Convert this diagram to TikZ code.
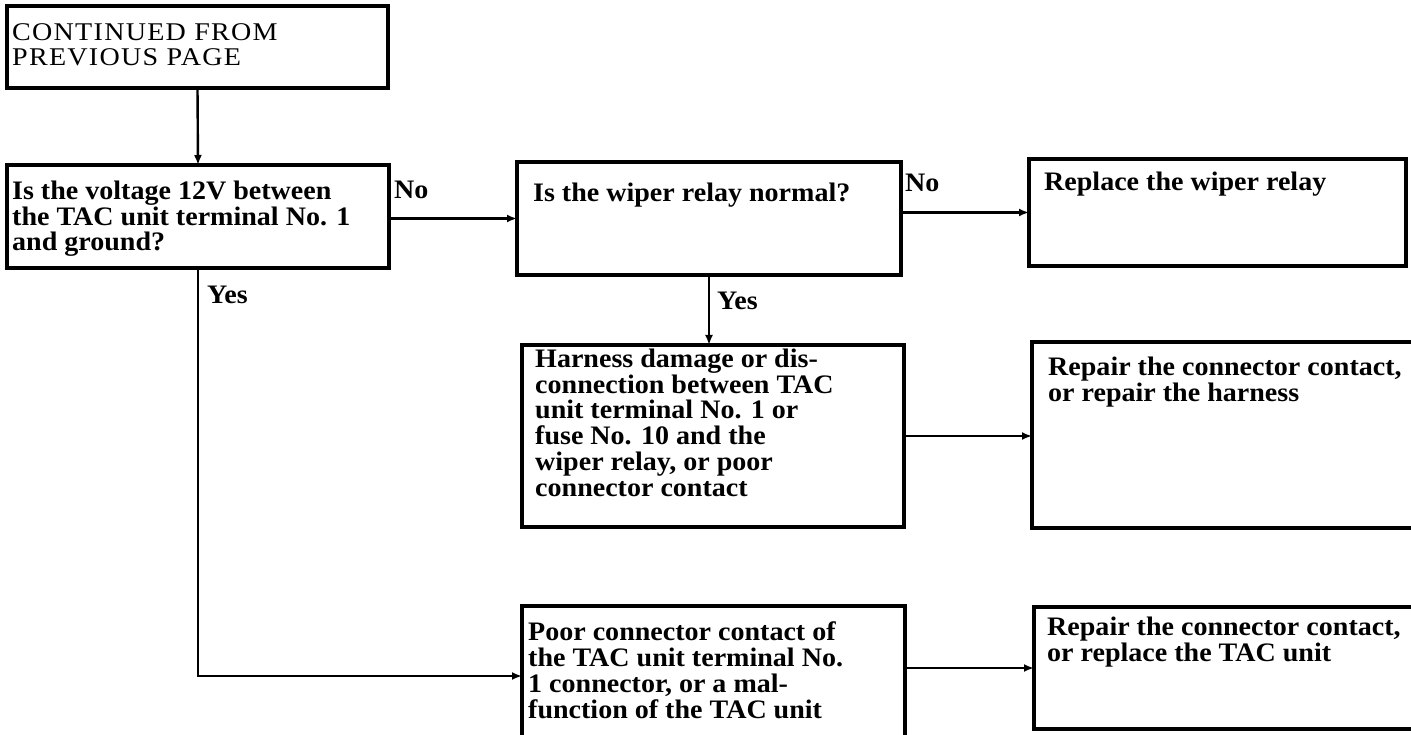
\documentclass[tikz,border=0pt]{standalone}
\usepackage{fontspec}
\setmainfont{Liberation Serif}[FakeStretch=1.05]
\newfontfamily\headfont{Liberation Serif}[FakeStretch=1.1, LetterSpace=5]
\usetikzlibrary{arrows.meta}
\begin{document}
\begin{tikzpicture}[x=1pt,y=-1pt,
  box/.style={draw, line width=3.2pt, rectangle, inner sep=0pt, outer sep=0pt, anchor=north west},
  % multi-line texts are placed by the baseline of their last line
  txt/.style={anchor=base west, inner sep=0pt, align=left,
    font=\fontsize{26.7}{25.7}\selectfont\bfseries},
  plaintxt/.style={txt, font=\headfont\fontsize{25.5}{25}\selectfont},
  flow/.style={line width=2.4pt, -{Latex[length=10pt,width=8pt]}},
  lbl/.style={anchor=base west, inner sep=0pt, font=\fontsize{26.7}{25.7}\selectfont\bfseries}]

\useasboundingbox (0,0) rectangle (1411,735);
\clip (0,0) rectangle (1411,735);

% boxes
\node[box, minimum width=381pt, minimum height=82pt]  (A) at (7,6) {};
\node[box, minimum width=382pt, minimum height=103pt] (B) at (7,165) {};
\node[box, minimum width=384pt, minimum height=113pt] (C) at (517,162) {};
\node[box, minimum width=377pt, minimum height=107pt] (D) at (1029,159) {};
\node[box, minimum width=382pt, minimum height=182pt] (E) at (522,345) {};
\node[box, minimum width=390pt, minimum height=186pt] (F) at (1032,342) {};
\node[box, minimum width=383pt, minimum height=140pt] (G) at (522,606) {};
\node[box, minimum width=390pt, minimum height=122pt] (H) at (1034,607) {};

% box texts
\node[plaintxt] (tA) at (12,66) {CONTINUED FROM\\PREVIOUS PAGE};
\node[txt] (tB) at (12,251) {Is the voltage 12V between\\the TAC unit terminal No. 1\\and ground?};
\node[txt] (tC) at (533,202) {Is the wiper relay normal?};
\node[txt] (tD) at (1044,191) {Replace the wiper relay};
\node[txt] (tE) at (535,496) {Harness damage or dis-\\connection between TAC\\unit terminal No. 1 or\\fuse No. 10 and the\\wiper relay, or poor\\connector contact};
\node[txt] (tF) at (1048,401) {Repair the connector contact,\\or repair the harness};
\node[txt] (tG) at (528,718) {Poor connector contact of\\the TAC unit terminal No.\\1 connector, or a mal-\\function of the TAC unit};
\node[txt] (tH) at (1047,661) {Repair the connector contact,\\or replace the TAC unit};

% connectors
\draw[flow] (A.south) -- (B.north);
\draw[flow] (B.east |- C.west) -- (C.west);
\draw[flow] (C.east |- D.west) -- (D.west);
\draw[flow] (C.south) -- (C.south |- E.north);
\draw[flow] (E.east) -- (E.east -| F.west);
\draw[flow] (B.south) |- (G.west);
\draw[flow] (G.east |- H.west) -- (H.west);

% branch labels
\node[lbl] (no1)  at (394,199) {No};
\node[lbl] (no2)  at (905,192) {No};
\node[lbl] (yes1) at (207,304) {Yes};
\node[lbl] (yes2) at (717,310) {Yes};
\end{tikzpicture}
\end{document}
